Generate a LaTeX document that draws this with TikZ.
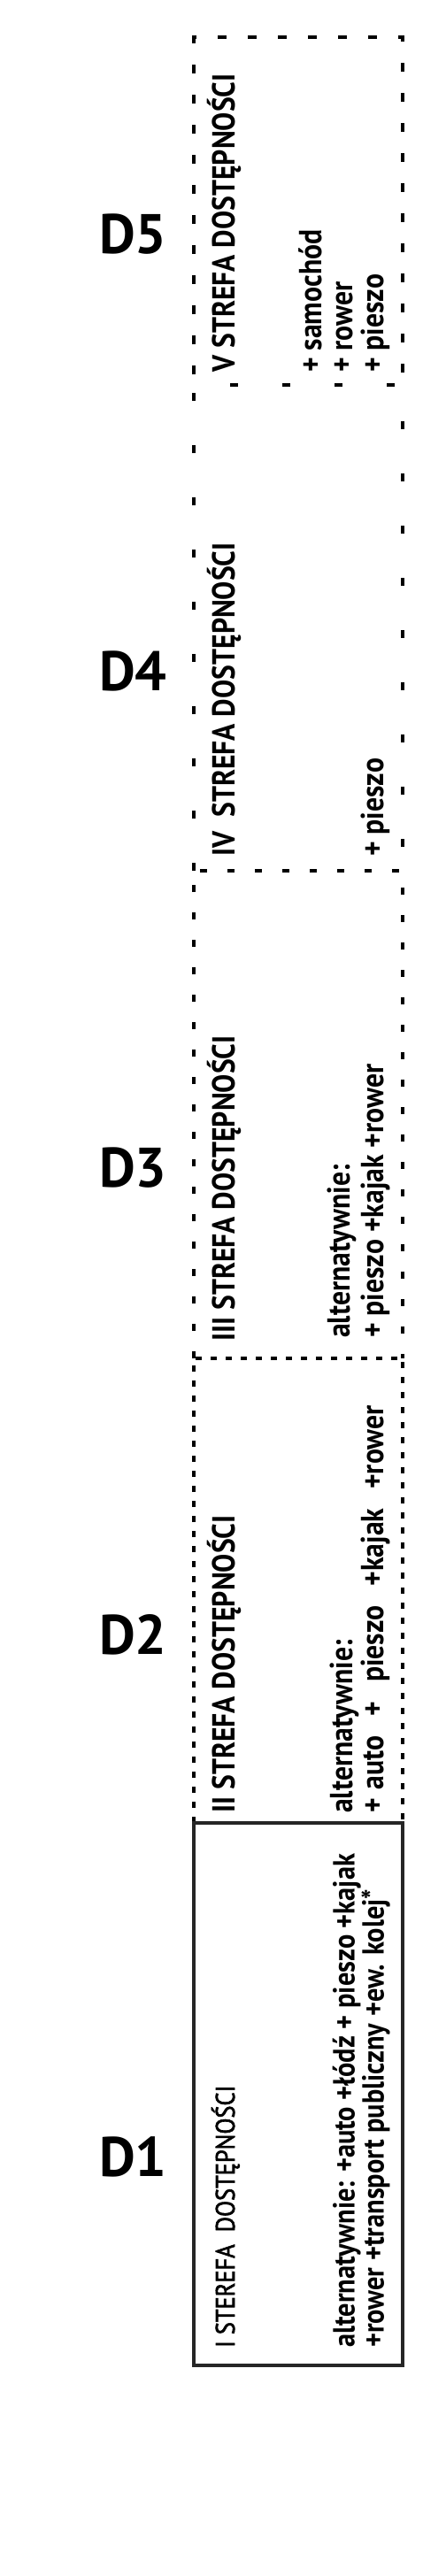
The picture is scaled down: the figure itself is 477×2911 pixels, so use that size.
\documentclass[tikz,border=0pt]{standalone}
\usepackage{fontspec}
\usepackage{tikz}
\newfontfamily\zonefont{PT Sans}[FakeStretch=0.88]
\newfontfamily\medfont{PT Sans}[FakeStretch=0.88, FakeBold=2]
\newfontfamily\labelfont{PT Sans}
\newcommand\widegaps{\spaceskip=22pt\relax}
\tikzset{
  zonebox/.style ={inner sep=0pt, outer sep=0pt, minimum width=236pt},
  dlabel/.style  ={anchor=west, inner sep=0pt, font=\labelfont\bfseries\fontsize{63}{63}\selectfont},
  ztitle/.style  ={rotate=90, anchor=base west, inner sep=0pt, font=\zonefont\bfseries\fontsize{36}{36}\selectfont},
  zalt/.style    ={rotate=90, anchor=south west, inner sep=0pt, align=left, font=\zonefont\bfseries\fontsize{36}{35}\selectfont},
  edgefive/.style ={line width=4.5pt, dash pattern=on 10pt off 24pt, dash phase=-12pt},
  edgefour/.style ={line width=4.5pt, dash pattern=on 9pt off 50pt},
  edgethree/.style={line width=4.5pt, dash pattern=on 8pt off 23pt},
  edgetwo/.style  ={line width=4.5pt, dash pattern=on 7pt off 10pt},
  edgeone/.style  ={line width=4.5pt, draw=black!85},
}
\begin{document}
\begin{tikzpicture}[x=1pt, y=1pt]
\useasboundingbox (0,0) rectangle (477,-2911);
% --- zones, top to bottom ---
\node[zonebox, minimum height=393pt] (z5) at (337,-238.5)  {};
\node[zonebox, minimum height=549pt] (z4) at (337,-709.5)  {};
\node[zonebox, minimum height=551pt] (z3) at (337,-1259.5) {};
\node[zonebox, minimum height=525pt] (z2) at (337,-1797.5) {};
\node[zonebox, minimum height=613pt] (z1) at (337,-2366.5) {};
% --- outlines ---
\foreach \z/\s in {z5/edgefive, z4/edgefour, z3/edgethree, z2/edgetwo}
  {\draw[\s] (\z.south west) -- (\z.north west) -- (\z.north east) -- (\z.south east);}
\draw[edgeone] (z1.south west) rectangle (z1.north east);
% --- zone labels ---
\node[dlabel] (d5) at (112,-265)  {D5};
\node[dlabel] (d4) at (112,-758)  {D4};
\node[dlabel] (d3) at (112,-1320) {D3};
\node[dlabel] (d2) at (112,-1847) {D2};
\node[dlabel] (d1) at (112,-2437) {D1};
% --- titles ---
\node[ztitle] (t5) at (265,-421)  {V STREFA DOSTĘPNOŚCI};
\node[ztitle] (t4) at (265,-968)  {IV~~STREFA DOSTĘPNOŚCI};
\node[ztitle] (t3) at (265,-1516) {III STREFA DOSTĘPNOŚCI};
\node[ztitle] (t2) at (265,-2049) {II STREFA DOSTĘPNOŚCI};
\node[ztitle, font=\medfont\fontsize{30}{30}\selectfont] (t1) at (265,-2653) {I STEREFA~~DOSTĘPNOŚCI};
% --- means of access ---
\node[zalt] (a5) at (441,-421)  {+ samochód\\+ rower\\+ pieszo};
\node[zalt] (a4) at (441,-968)  {+ pieszo};
\node[zalt, font=\zonefont\bfseries\fontsize{36}{38}\selectfont] (a3) at (441,-1512) {alternatywnie:\\+ pieszo +kajak +rower};
\node[zalt, font=\zonefont\bfseries\fontsize{36}{35}\selectfont\widegaps] (a2) at (441,-2049) {alternatywnie:\\+\hspace{10pt}auto + pieszo +kajak +rower};
\node[zalt, font=\zonefont\bfseries\fontsize{34.5}{33}\selectfont] (a1) at (441,-2653) {alternatywnie: +auto +łódź + pieszo +kajak\\+rower +transport publiczny +ew. kolej*};
\end{tikzpicture}
\end{document}
